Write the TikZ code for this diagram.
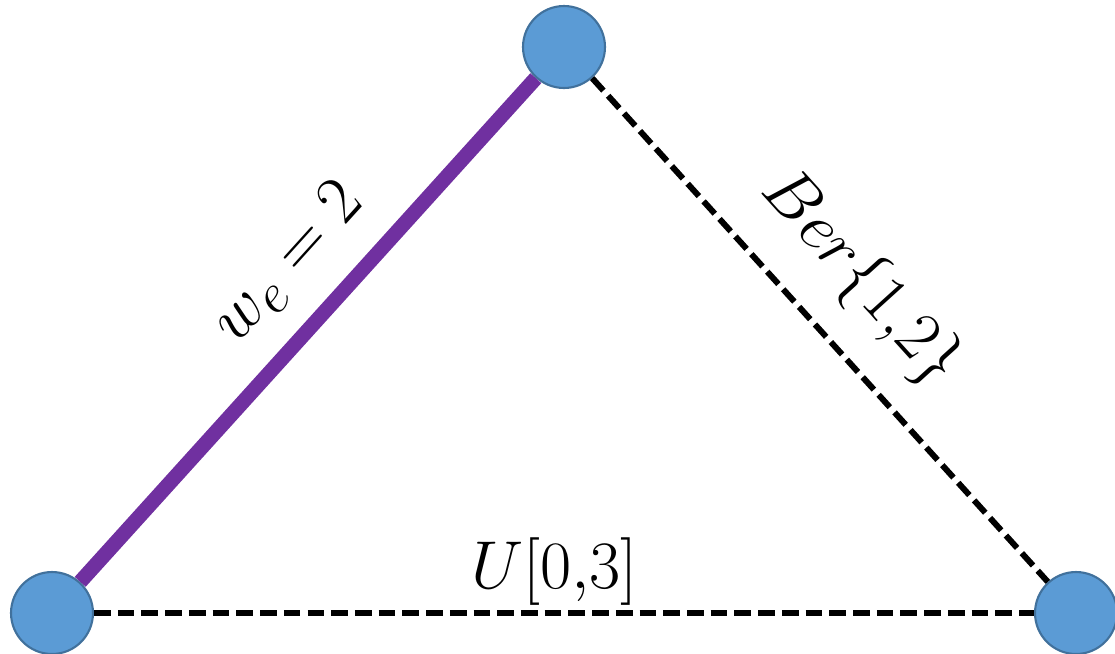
\documentclass[tikz,border=0pt]{standalone}
\usepackage{amsmath, amssymb}
\usepackage{graphicx}
\usepackage{xcolor}
\usepackage{tikz}

\definecolor{vtxblue}{HTML}{5B9BD5}
\definecolor{vtxrim}{HTML}{41719C}
\definecolor{fixpurple}{HTML}{7030A0}

\newcommand{\biglbl}[1]{\scalebox{1.55}{\Huge #1}}

\begin{document}
\begin{tikzpicture}[x=0.02cm, y=-0.02cm,
    vertex/.style={circle, draw=vtxrim, line width=1.2pt, fill=vtxblue, minimum size=1.64cm, inner sep=0pt},
    fixededge/.style={draw=fixpurple, line width=8.4pt},
    randedge/.style={draw=black, line width=3.4pt, dash pattern=on 9.5pt off 4pt},
    lbl/.style={inner sep=0pt}]
    \clip (0,0) rectangle (1115,653);
    \node[vertex] (top) at (564,47) {};
    \node[vertex] (left) at (52,613) {};
    \node[vertex] (right) at (1076,613) {};
    \draw[fixededge] (left) -- node[lbl, pos=0.554, sloped, above=0.5cm] {\biglbl{$w_e = 2$}} (top);
    \draw[randedge] (top) -- node[lbl, pos=0.483, sloped, above=0.56cm] {\biglbl{$Ber\{1{,}2\}$}} (right);
    \draw[randedge] (left) -- node[lbl, pos=0.49, above=0.1cm] {\biglbl{$U[0{,}3]$}} (right);
\end{tikzpicture}
\end{document}
